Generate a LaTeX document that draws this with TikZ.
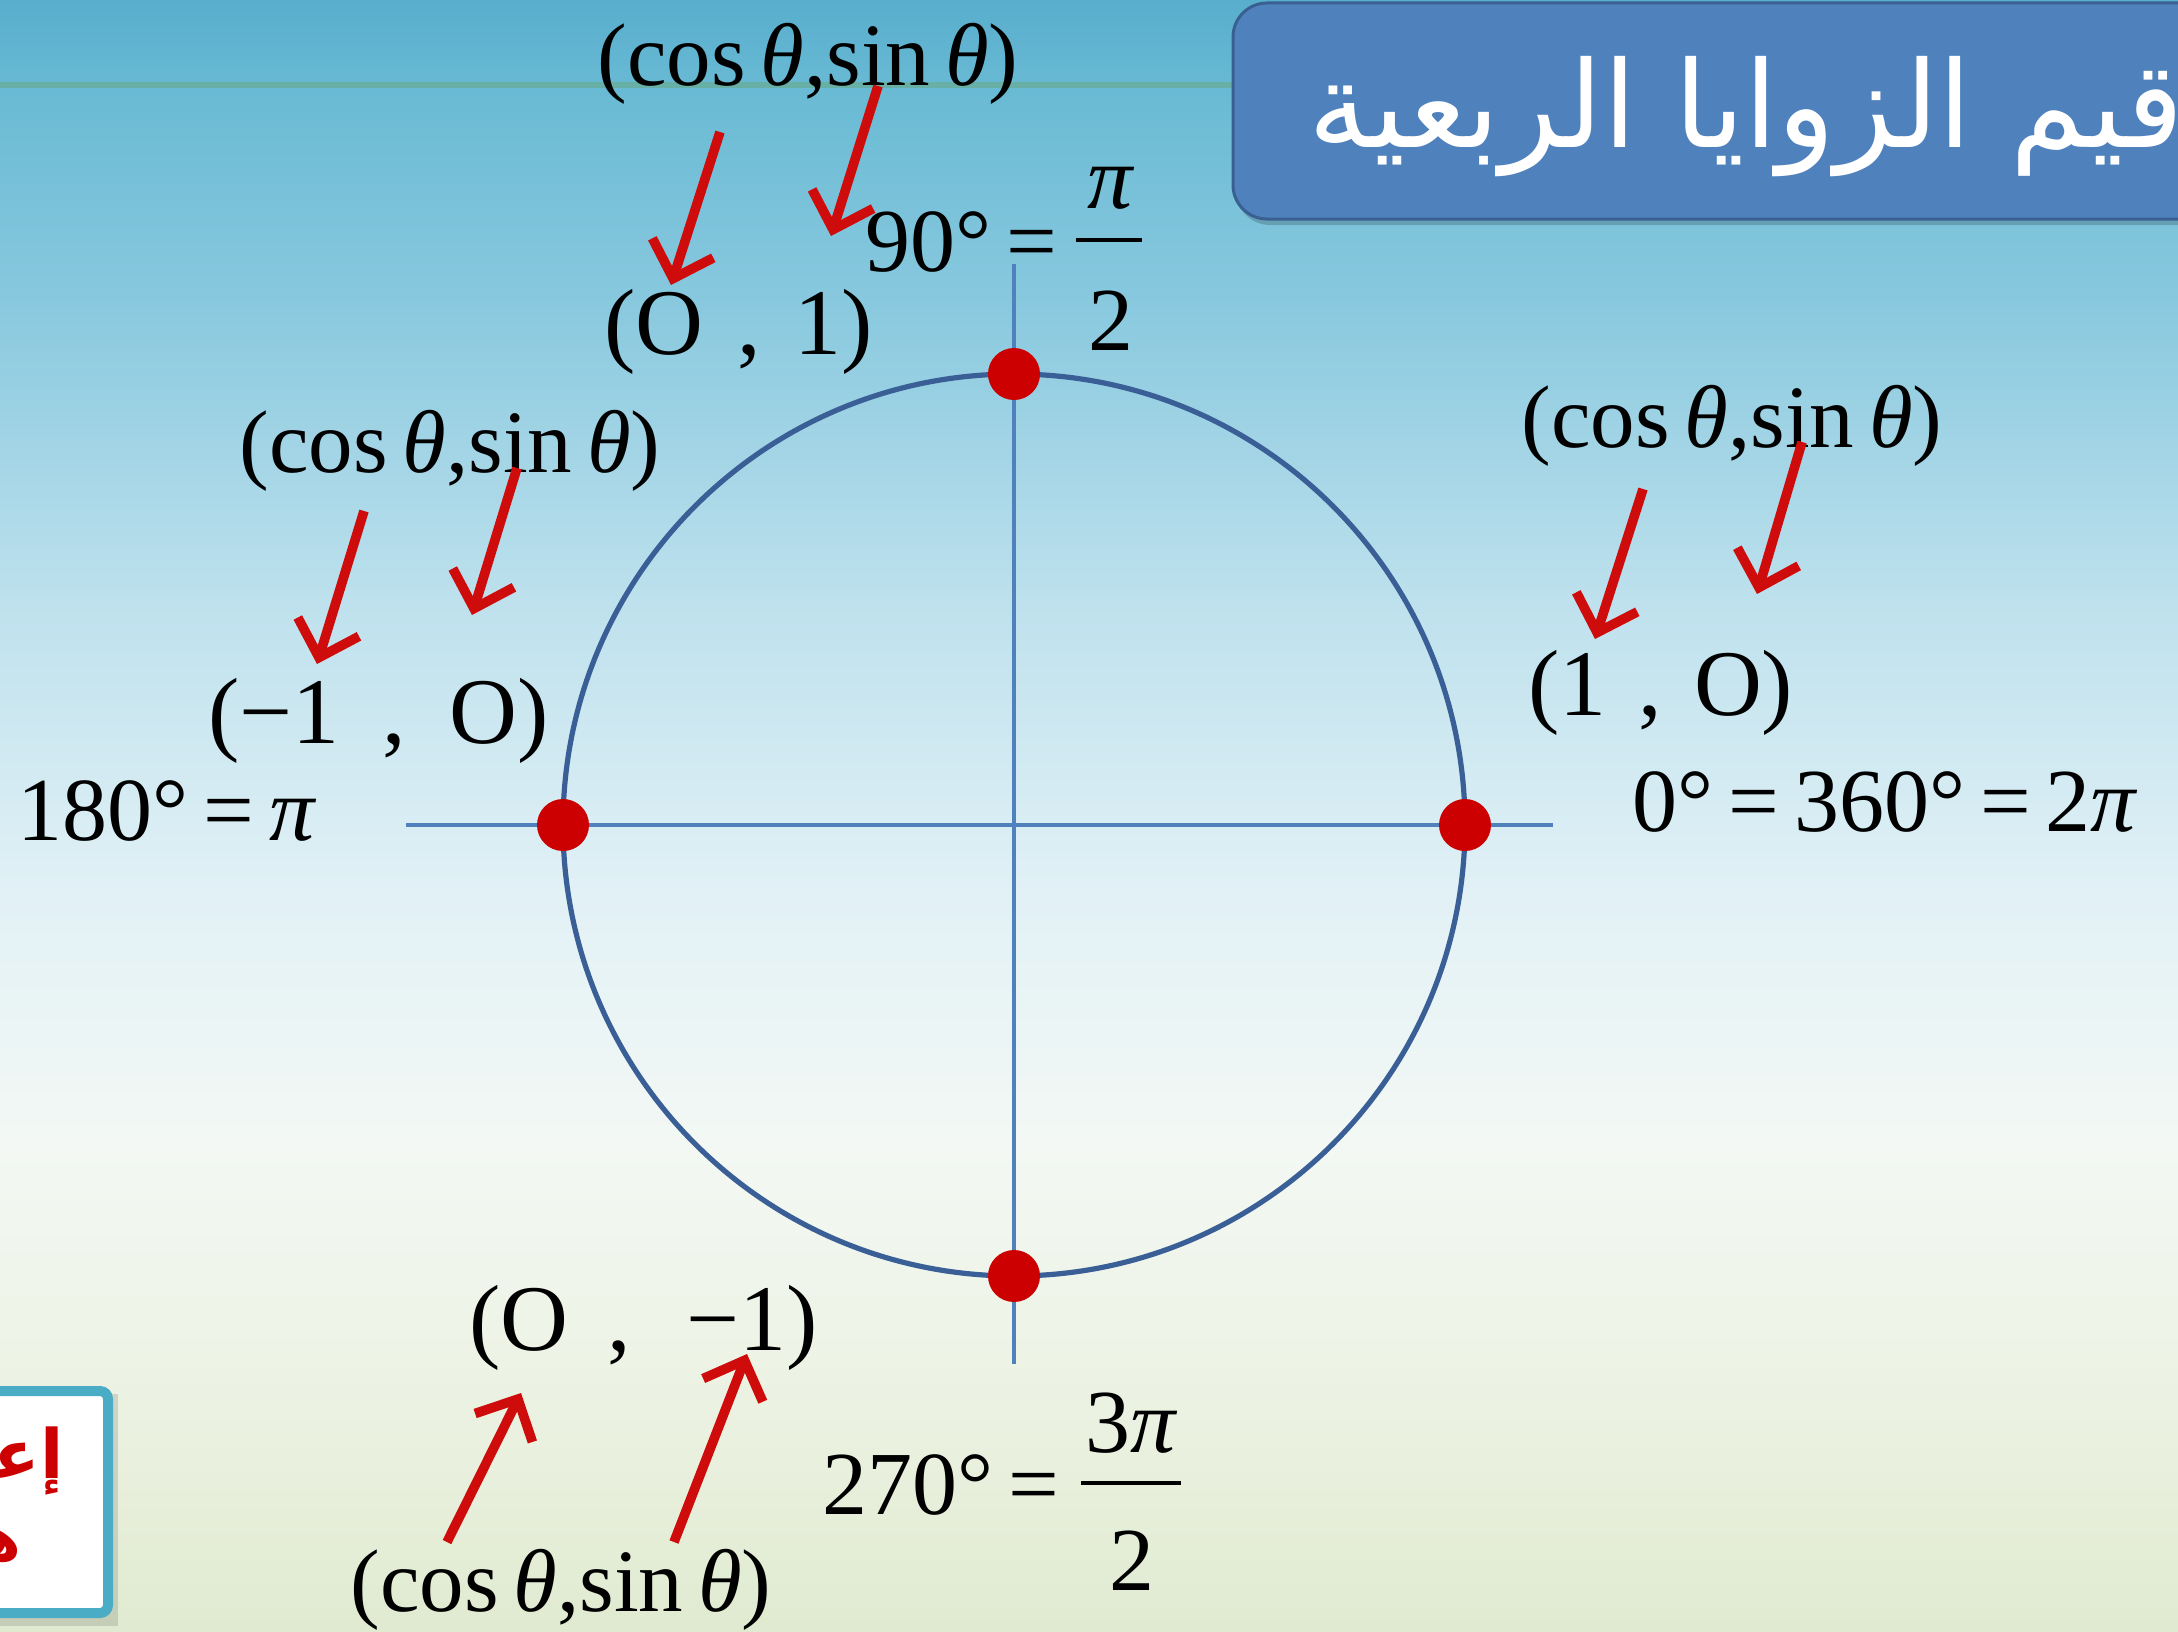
\documentclass[tikz,border=0pt]{standalone}
\usepackage{fontspec}
\setmainfont{Liberation Serif}
\newfontfamily\arabicfont[Script=Arabic]{DejaVu Sans}
\TeXXeTstate=1
\usetikzlibrary{arrows.meta}
\definecolor{axisblue}{RGB}{79,129,189}
\definecolor{circblue}{RGB}{58,95,150}
\definecolor{dotred}{RGB}{204,0,0}
\definecolor{arrred}{RGB}{206,12,12}
\definecolor{titlefill}{RGB}{79,129,189}
\definecolor{titleedge}{RGB}{58,96,145}
\definecolor{aqua}{RGB}{75,172,198}
\definecolor{hline}{RGB}{104,176,160}
\definecolor{bgA}{RGB}{224,234,208}
\definecolor{bgB}{RGB}{236,242,226}
\definecolor{bgC}{RGB}{243,248,244}
\definecolor{bgD}{RGB}{226,241,246}
\definecolor{bgE}{RGB}{190,225,237}
\definecolor{bgF}{RGB}{135,200,222}
\definecolor{bgG}{RGB}{105,186,212}
\definecolor{bgH}{RGB}{88,174,205}
\pgfdeclareverticalshading{bgshade}{100bp}{color(0bp)=(bgA); color(25bp)=(bgA); color(32bp)=(bgB); color(40bp)=(bgC); color(47.5bp)=(bgD); color(56.5bp)=(bgE); color(66bp)=(bgF); color(72.25bp)=(bgG); color(75bp)=(bgH); color(100bp)=(bgH)}
\begin{document}
\begin{tikzpicture}[x=0.5pt,y=-0.5pt,
  lbl/.style={font=\fontsize{45}{48}\selectfont, inner sep=0pt, anchor=base west},
  ptlbl/.style={font=\fontsize{47}{50}\selectfont, inner sep=0pt, anchor=base west},
  coslbl/.style={font=\fontsize{44.5}{47}\selectfont, inner sep=0pt, anchor=base west},
  fracpart/.style={font=\fontsize{45}{48}\selectfont, inner sep=0pt, anchor=base},
  fracbar/.style={line width=1.6pt, black},
  axisline/.style={line width=2pt, draw=axisblue},
  circline/.style={line width=2.6pt, draw=circblue},
  dotnode/.style={circle, fill=dotred, minimum size=26pt, inner sep=0pt},
  redarrow/.style={line width=4.8pt, draw=arrred, -{Straight Barb[length=16pt,width=32pt,line width=4.8pt]}}
]
\clip (0,0) rectangle (2178,1632);
\shade[shading=bgshade] (0,0) rectangle (2178,1632);
\draw[line width=2.6pt, hline, opacity=0.9] (0,85) -- (1240,85);

% title box
\fill[black, opacity=0.18, rounded corners=17pt] (1236,8) rectangle (2220,225);
\draw[rounded corners=17pt, fill=titlefill, draw=titleedge, line width=1.5pt] (1233,3) rectangle (2220,219);
\node[anchor=base east, inner sep=0pt, text=white, font=\arabicfont\fontsize{60}{64}\selectfont] (title) at (2184,148) {\beginR قيم الزوايا الربعية\endR};

% bottom-left box
\begin{scope}
\fill[black, opacity=0.12] (-20,1394) rectangle (118,1626);
\draw[line width=5pt, draw=aqua, fill=white, rounded corners=4pt] (-20,1391) rectangle (108,1613);
\clip (-20,1397) rectangle (102,1607);
\node[anchor=base east, inner sep=0pt, text=dotred, font=\arabicfont\bfseries\fontsize{34}{36}\selectfont] (boxa) at (64,1478) {\beginR إعداد\endR};
\node[anchor=base east, inner sep=0pt, text=dotred, font=\arabicfont\bfseries\fontsize{34}{36}\selectfont] (boxb) at (22,1560) {\beginR هـ\endR};
\end{scope}

% axes and circle
\coordinate (O) at (1014,825);
\coordinate (xl) at (406,825);
\coordinate (xr) at (1553,825);
\coordinate (yt) at (1014,264);
\coordinate (yb) at (1014,1364);
\draw[axisline] (xl) -- (xr);
\draw[axisline] (yt) -- (yb);
\draw[circline] (O) circle [radius=451];
\node[dotnode] (P0) at (1465,825) {};
\node[dotnode] (P90) at (1014,374) {};
\node[dotnode] (P180) at (563,825) {};
\node[dotnode] (P270) at (1014,1276) {};

% top labels
\node[coslbl] (cosT) at (597,86) {(cos\,\textit{θ},sin\,\textit{θ})};
\node[ptlbl] (ptT) at (604,354) {(O\hspace{0.36em},\hspace{0.36em}1)};
\node[lbl, anchor=base east] (ang90) at (1058,271) {90°\,=};
\node[fracpart] (n90) at (1111,208) {\textit{π}};
\draw[fracbar] (1076,240) -- (1142,240);
\node[fracpart] (d90) at (1111,350) {2};

% left labels
\node[coslbl] (cosL) at (239,472) {(cos\,\textit{θ},sin\,\textit{θ})};
\node[ptlbl] (ptL) at (208,743) {(−1\hspace{0.46em},\hspace{0.46em}O)};
\node[lbl] (ang180) at (17,840) {180°\,=\,\textit{π}};

% right labels
\node[coslbl] (cosR) at (1521,447) {(cos\,\textit{θ},sin\,\textit{θ})};
\node[ptlbl] (ptR) at (1528,715) {(1\hspace{0.34em},\hspace{0.34em}O)};
\node[lbl] (ang0) at (1632,831) {0°\,=\,360°\,=\,2\textit{π}};

% bottom labels
\node[ptlbl] (ptB) at (469,1350) {(O\hspace{0.42em},\hspace{0.58em}−1)};
\node[coslbl] (cosB) at (350,1611) {(cos\,\textit{θ},sin\,\textit{θ})};
\node[lbl, anchor=base east] (ang270) at (1060,1514) {270°\,=};
\node[fracpart] (n270) at (1132,1452) {3\textit{π}};
\draw[fracbar] (1081,1483) -- (1181,1483);
\node[fracpart] (d270) at (1132,1590) {2};

% arrows
\coordinate (aT1s) at (720,132);  \coordinate (aT1e) at (671,285);
\coordinate (aT2s) at (878,86);   \coordinate (aT2e) at (831,236);
\coordinate (aL1s) at (364,511);  \coordinate (aL1e) at (317,664);
\coordinate (aL2s) at (517,468);  \coordinate (aL2e) at (472,615);
\coordinate (aR1s) at (1643,489); \coordinate (aR1e) at (1595,639);
\coordinate (aR2s) at (1802,442); \coordinate (aR2e) at (1757,594);
\coordinate (aB1s) at (447,1542); \coordinate (aB1e) at (521,1393);
\coordinate (aB2s) at (674,1542); \coordinate (aB2e) at (747,1354);
\draw[redarrow] (aT1s) -- (aT1e);
\draw[redarrow] (aT2s) -- (aT2e);
\draw[redarrow] (aL1s) -- (aL1e);
\draw[redarrow] (aL2s) -- (aL2e);
\draw[redarrow] (aR1s) -- (aR1e);
\draw[redarrow] (aR2s) -- (aR2e);
\draw[redarrow] (aB1s) -- (aB1e);
\draw[redarrow] (aB2s) -- (aB2e);
\end{tikzpicture}
\end{document}
